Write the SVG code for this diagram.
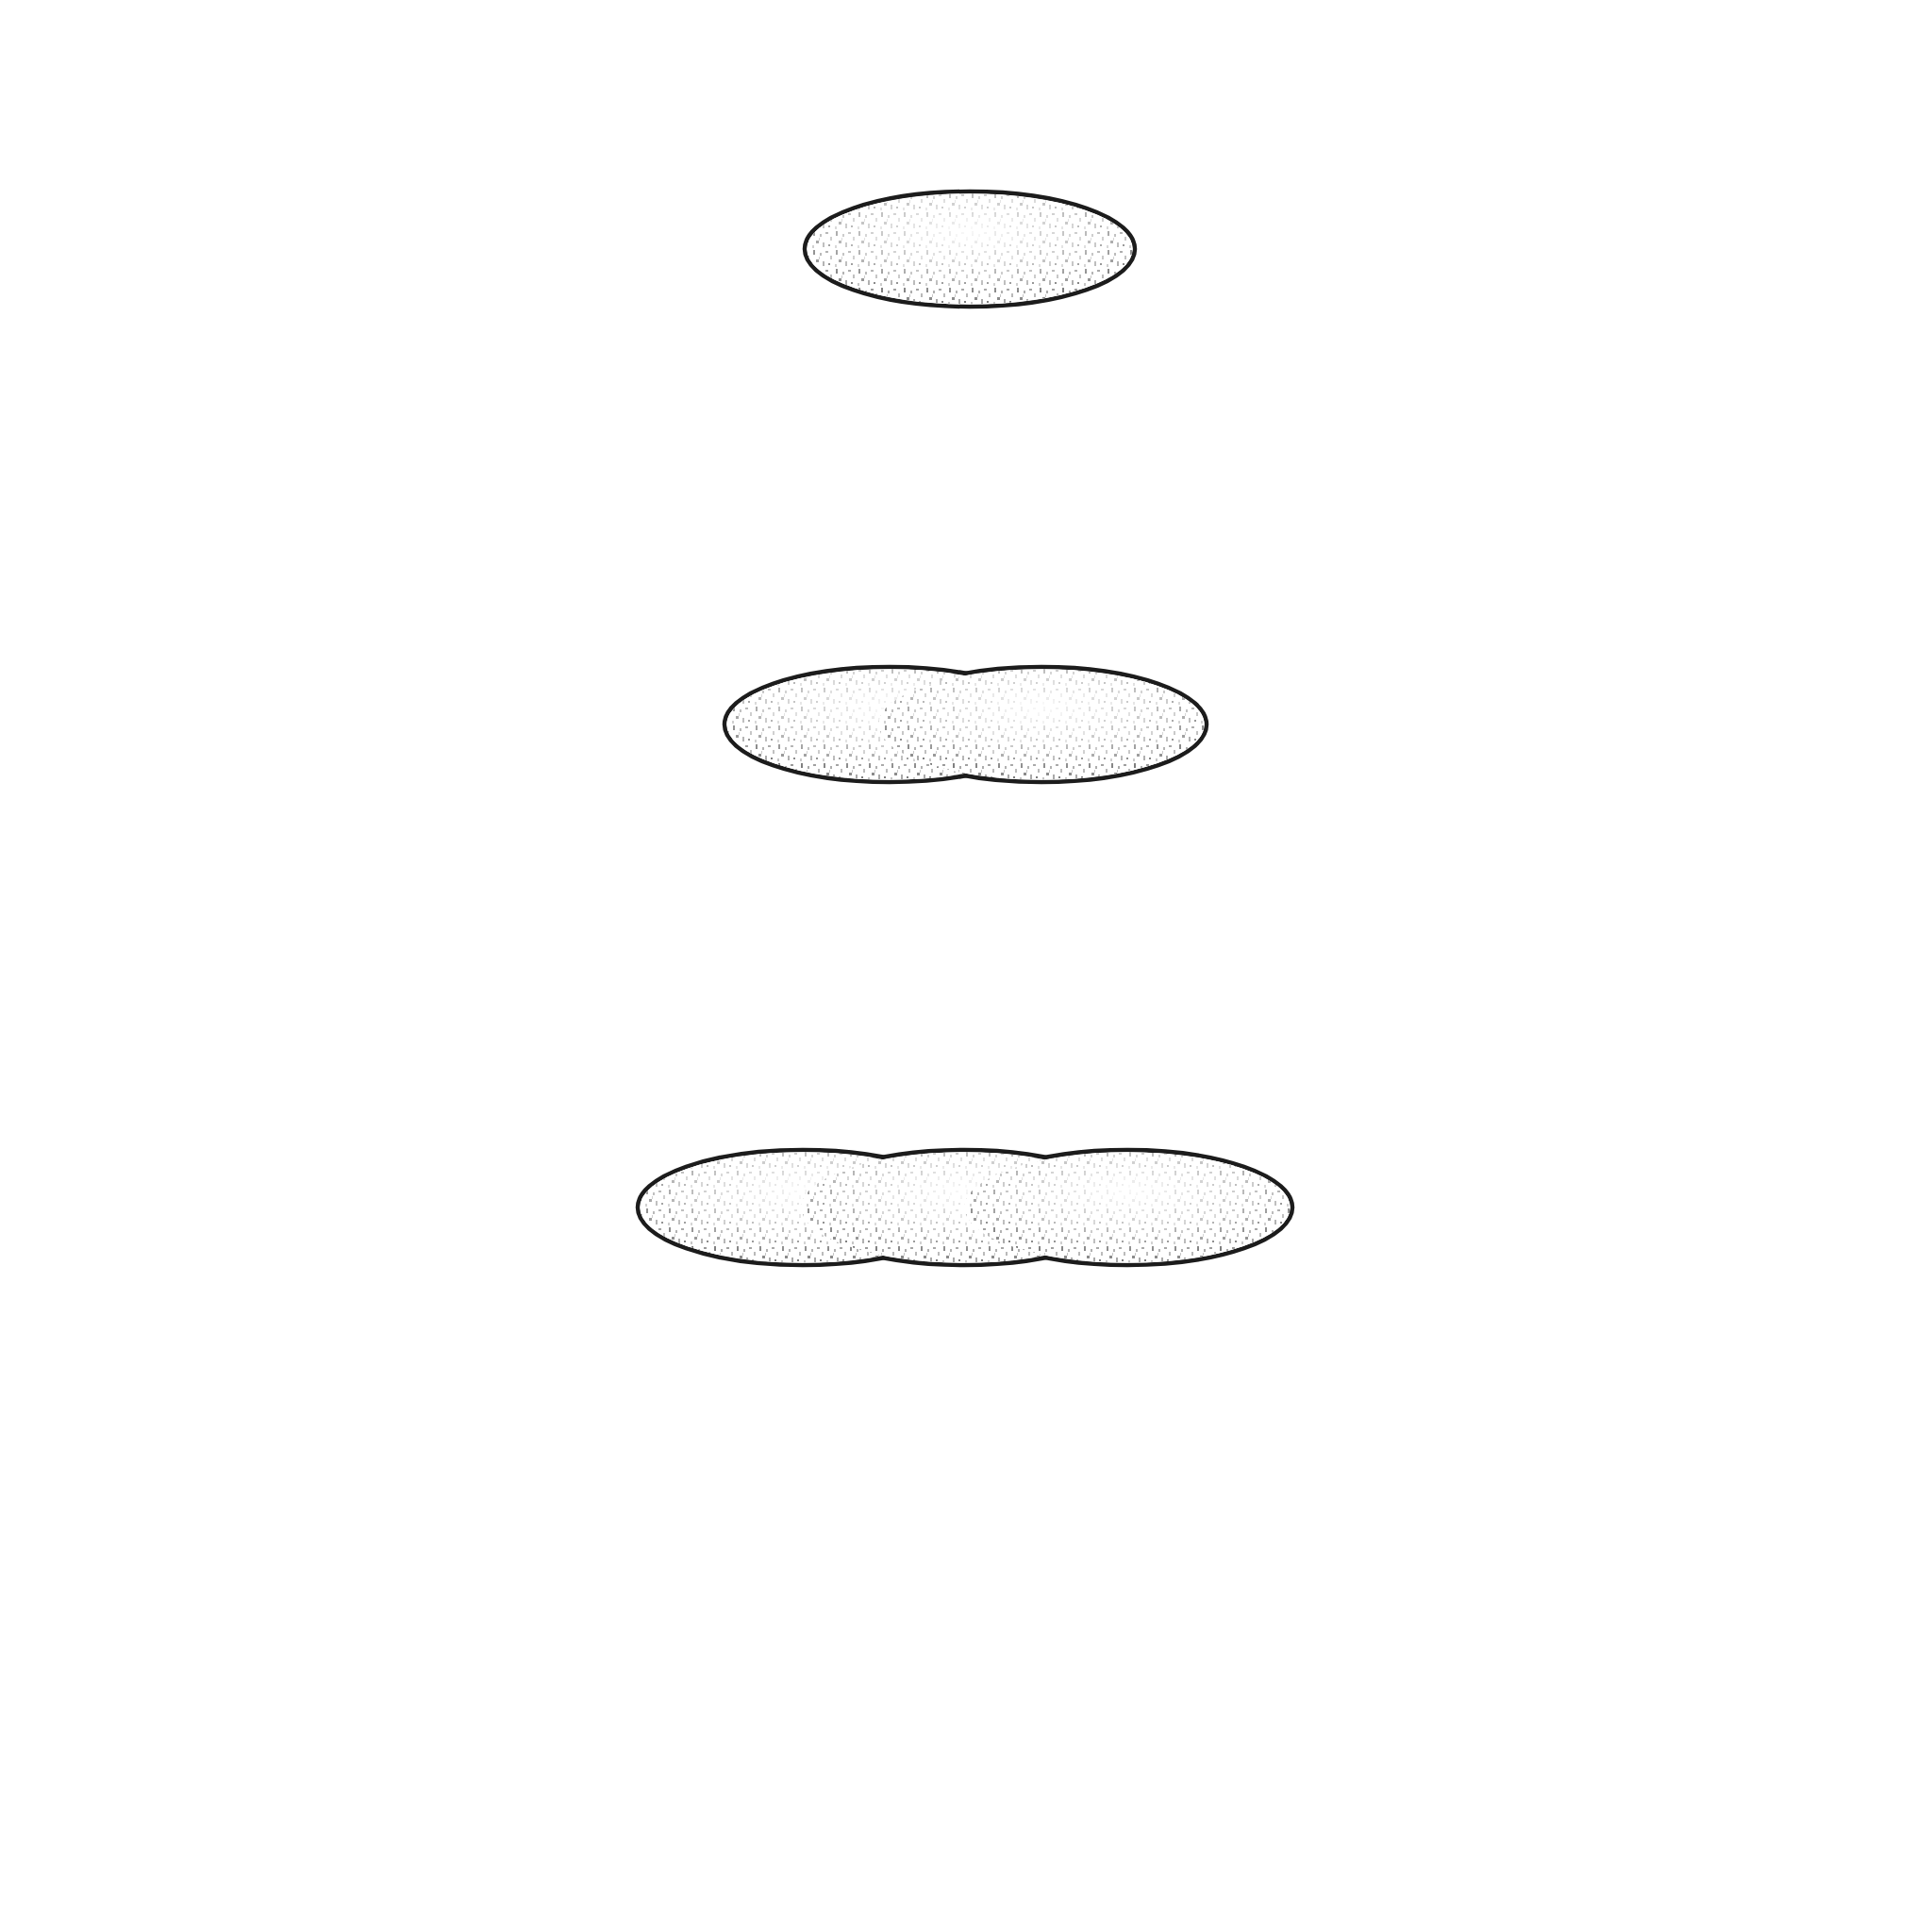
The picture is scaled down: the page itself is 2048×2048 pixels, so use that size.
<svg xmlns="http://www.w3.org/2000/svg" width="2048" height="2048" viewBox="0 0 2048 2048">
<style>
.base{fill:#fff}
.tex{fill:url(#stip)}
.glow{fill:url(#lite)}
.rim{fill:#fff;stroke:#1c1c1c;stroke-width:4.5}
.shade{fill:none;stroke:#777;stroke-width:3;opacity:0.45}
</style>
<defs>
<pattern id="stip" width="24" height="20" patternUnits="userSpaceOnUse">
<rect x="2" y="1" width="2" height="5" fill="#666"/>
<rect x="9" y="4" width="2" height="3" fill="#999"/>
<rect x="15" y="2" width="3" height="2" fill="#888"/>
<rect x="20" y="7" width="2" height="4" fill="#aaa"/>
<rect x="5" y="11" width="3" height="3" fill="#777"/>
<rect x="12" y="13" width="2" height="5" fill="#999"/>
<rect x="18" y="15" width="2" height="2" fill="#666"/>
<rect x="1" y="16" width="2" height="3" fill="#bbb"/>
<rect x="8" y="8" width="1" height="3" fill="#bbb"/>
</pattern>
<radialGradient id="lite" cx="0.5" cy="0.35" r="0.6">
<stop offset="0" stop-color="#fff" stop-opacity="0.95"/>
<stop offset="0.6" stop-color="#fff" stop-opacity="0.55"/>
<stop offset="1" stop-color="#fff" stop-opacity="0.15"/>
</radialGradient>
<g id="outline">
<ellipse class="rim" cx="0" cy="0" rx="175" ry="61"/>
</g>
<g id="fill">
<ellipse class="base" cx="0" cy="0" rx="172.5" ry="58.5"/>
<ellipse class="tex" cx="0" cy="0" rx="172.5" ry="58.5"/>
<ellipse class="glow" cx="0" cy="0" rx="172.5" ry="58.5"/>
</g>
</defs>
<rect width="2048" height="2048" fill="#fff"/>
<g id="row1">
<g id="n1"><use href="#outline" x="1028" y="264"/><use href="#fill" x="1028" y="264"/></g>
</g>
<g id="row2">
<g id="n2a"><use href="#outline" x="943" y="768"/></g>
<g id="n2b"><use href="#outline" x="1104" y="768"/></g>
<g id="n2a-fill"><use href="#fill" x="943" y="768"/></g>
<g id="n2b-fill"><use href="#fill" x="1104" y="768"/></g>
</g>
<g id="row3">
<g id="n3a"><use href="#outline" x="851" y="1280"/></g>
<g id="n3b"><use href="#outline" x="1022" y="1280"/></g>
<g id="n3c"><use href="#outline" x="1195" y="1280"/></g>
<g id="n3a-fill"><use href="#fill" x="851" y="1280"/></g>
<g id="n3b-fill"><use href="#fill" x="1022" y="1280"/></g>
<g id="n3c-fill"><use href="#fill" x="1195" y="1280"/></g>
</g>
<g id="connectors"/>
</svg>
